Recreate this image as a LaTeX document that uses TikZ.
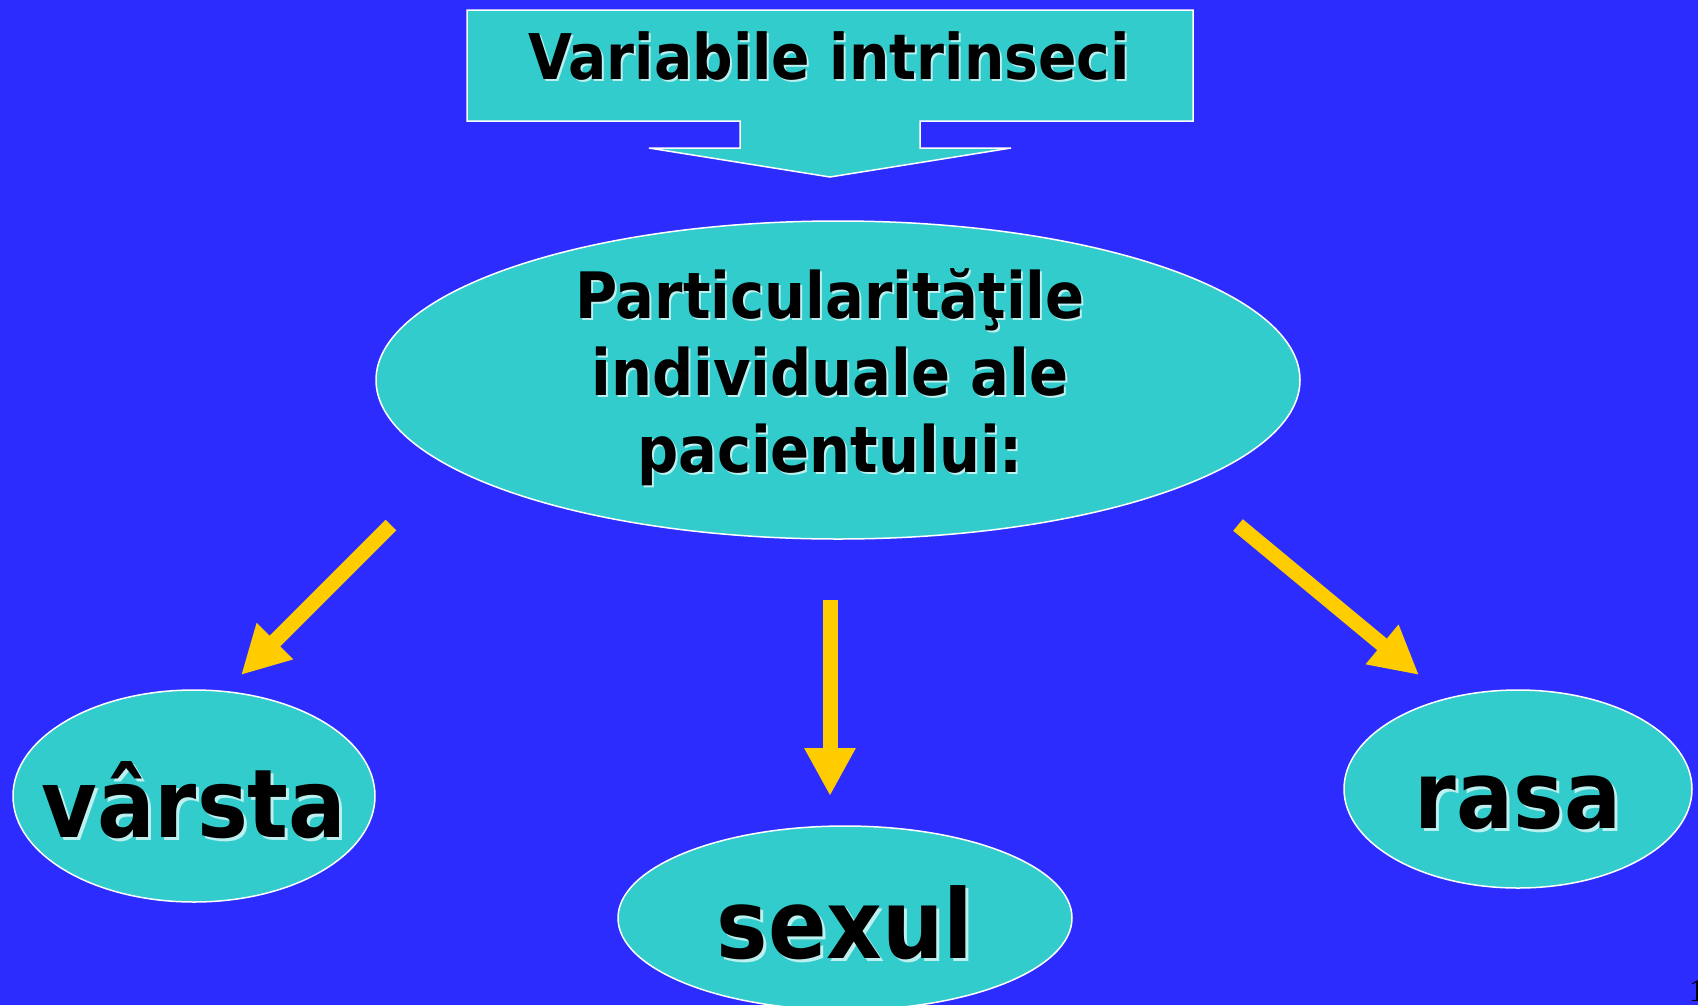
\documentclass[tikz,border=0pt]{standalone}
\usepackage{fontspec}
\setmainfont{DejaVu Sans}
\newfontfamily\cond{DejaVu Sans Condensed}
\newfontfamily\serifnum{Liberation Serif}
\usetikzlibrary{arrows.meta,shapes.geometric}
\definecolor{bgblue}{RGB}{44,44,255}
\definecolor{teal1}{RGB}{51,204,204}
\definecolor{gold1}{RGB}{255,204,0}
\definecolor{shadowlight}{RGB}{190,240,240}
\tikzset{
  oval/.style={ellipse, fill=teal1, draw=white, line width=1.5pt, inner sep=0pt},
  bigtxt/.style={font=\cond\bfseries, text=black, anchor=base, align=center, inner sep=0pt},
  shadowtxt/.style={bigtxt, text=shadowlight},
  yarrow/.style={draw=gold1, line width=15pt, -{Triangle[length=48pt 0 0, width=48pt 0 0]}}
}
\begin{document}
\begin{tikzpicture}[x=1pt,y=-1pt]
\fill[bgblue] (0,0) rectangle (1698,1005);
\useasboundingbox (0,0) rectangle (1698,1005);
% callout
\draw[fill=teal1, draw=white, line width=1.5pt]
  (467,10) -- (1193,10) -- (1193,121) -- (920,121) -- (920,148) -- (1011,148)
  -- (830,177) -- (649,148) -- (740,148) -- (740,121) -- (467,121) -- cycle;
\node[shadowtxt, font=\cond\bfseries\fontsize{63}{76}\selectfont] at (831,81) {Variabile intrinseci};
\node[bigtxt, font=\cond\bfseries\fontsize{63}{76}\selectfont] (title) at (829,79) {Variabile intrinseci};
% big ellipse
\node[oval, minimum width=924pt, minimum height=318pt] (main) at (838,380) {};
\node[shadowtxt, font=\cond\bfseries\fontsize{64}{77}\selectfont] at (832,474) {Particularităţile\\individuale ale\\pacientului:};
\node[bigtxt, font=\cond\bfseries\fontsize{64}{77}\selectfont] (maintxt) at (830,472) {Particularităţile\\individuale ale\\pacientului:};
% small ellipses
\node[oval, minimum width=362pt, minimum height=212pt] (varsta) at (194,796) {};
\node[shadowtxt, font=\cond\bfseries\fontsize{95}{110}\selectfont] at (197,840) {vârsta};
\node[bigtxt, font=\cond\bfseries\fontsize{95}{110}\selectfont] (varstatxt) at (194,837) {vârsta};
\node[oval, minimum width=454pt, minimum height=184pt] (sexul) at (845,918) {};
\node[shadowtxt, font=\cond\bfseries\fontsize{96}{110}\selectfont] at (848,961) {sexul};
\node[bigtxt, font=\cond\bfseries\fontsize{96}{110}\selectfont] (sexultxt) at (845,958) {sexul};
\node[oval, minimum width=348pt, minimum height=198pt] (rasa) at (1518,789) {};
\node[shadowtxt, font=\cond\bfseries\fontsize{94}{110}\selectfont] at (1521,831) {rasa};
\node[bigtxt, font=\cond\bfseries\fontsize{94}{110}\selectfont] (rasatxt) at (1518,828) {rasa};
% arrows
\coordinate (a1s) at (391,525); \coordinate (a1e) at (241,675);
\coordinate (a2s) at (830,600); \coordinate (a2e) at (830,796);
\coordinate (a3s) at (1238,525); \coordinate (a3e) at (1419,675);
\draw[yarrow] (a1s) -- (a1e);
\draw[yarrow] (a2s) -- (a2e);
\draw[yarrow] (a3s) -- (a3e);
% page number
\node[font=\serifnum\fontsize{32}{36}\selectfont, anchor=base west, inner sep=0pt] (pnum) at (1689,1001) {1};
\end{tikzpicture}
\end{document}
